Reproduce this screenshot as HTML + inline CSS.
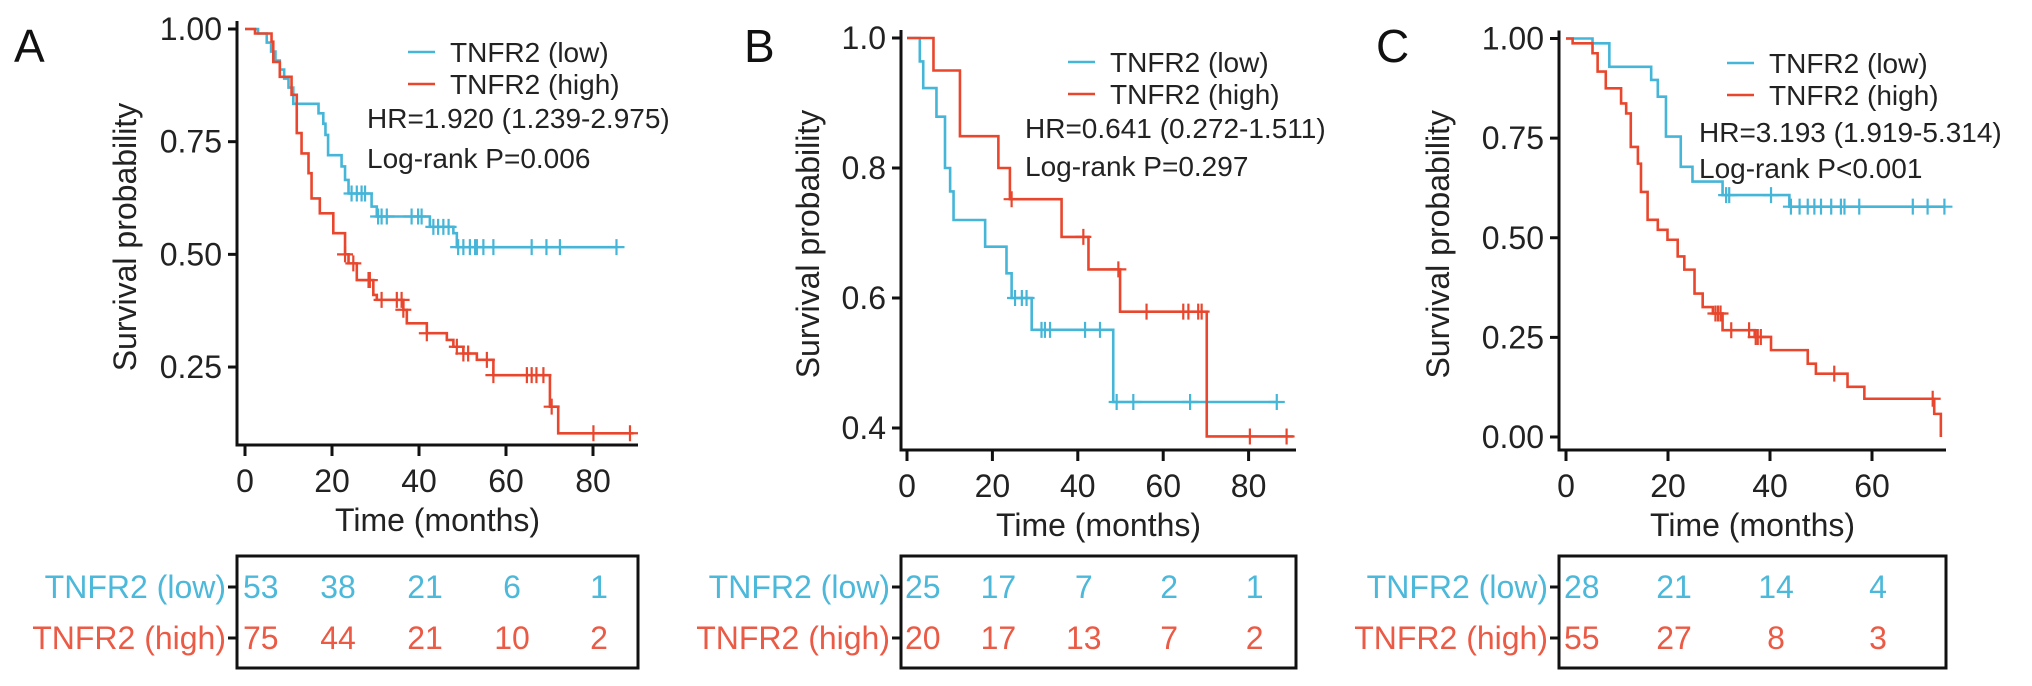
<!DOCTYPE html>
<html><head><meta charset="utf-8"><title>TNFR2 survival curves</title>
<style>
html,body{margin:0;padding:0;background:#fff;}
svg{display:block;font-family:"Liberation Sans",Arial,sans-serif;}
</style></head>
<body>
<svg id="fig" width="2032" height="686" viewBox="0 0 2032 686" xmlns="http://www.w3.org/2000/svg"></svg>
<script>
// ---------- DATA ----------
// Panel A
const aLowTimes  = [3,5,6,7,8,9,10,11.1,16.9,18,18.5,19.1,22.2,23,23.8,29.1,30.3,42.5,47.9,48.7];
const aLowSurv   = [0.99,0.97,0.95,0.93,0.91,0.89,0.87,0.834,0.813,0.79,0.765,0.72,0.695,0.665,0.635,0.606,0.584,0.561,0.547,0.516];
const aLowEnd = 85.4;
const aLowCens = [24.5,25.7,26.8,27.6,30.6,31.4,32.6,38.3,39.8,40.6,43.3,44.4,45.6,46.8,49.0,50.2,51.7,52.9,53.3,54.8,57.1,65.9,69.3,72.4,85.4];
const aHighTimes = [2.3,6.1,6.5,8.0,10.7,11.9,13.0,14.6,15.3,17.2,20.3,23.0,23.8,25.7,29.5,30.3,36.4,37.2,41.8,46.4,47.9,50.2,53.3,57.1,70.1,72];
const aHighSurv  = [0.99,0.972,0.927,0.894,0.854,0.769,0.724,0.68,0.624,0.591,0.547,0.5,0.48,0.443,0.41,0.399,0.377,0.347,0.325,0.31,0.295,0.28,0.266,0.232,0.162,0.103];
const aHighEnd = 89.3;
const aHighCens = [23,24.9,28.4,28.7,31.4,34.9,36,36.4,41.8,48.7,50.2,51.3,55.6,57.1,64.8,65.9,67.0,68.6,70.5,80.1,88.5];
const aRiskTimes = [0,20,40,60,80];
const aRiskLow  = [53,38,21,6,1];
const aRiskHigh = [75,44,21,10,2];
const aYTicks = ["0.25","0.50","0.75","1.00"];
const aXTicks = [0,20,40,60,80];

// Panel B
const bLowTimes = [3.0,3.8,6.9,8.9,10.1,10.9,18.3,23.3,24.5,29.2,48.3];
const bLowSurv  = [0.964,0.923,0.879,0.8,0.764,0.72,0.679,0.638,0.6,0.551,0.44];
const bLowEnd = 86.6;
const bLowCens = [25.3,26.9,28.0,31.5,32.3,33.5,41.7,45.2,49.1,53,66.3,86.6];
const bHighTimes = [6.2,12.4,21.4,24.1,36.2,42.5,49.9,70.2];
const bHighSurv  = [0.95,0.849,0.8,0.752,0.694,0.644,0.579,0.387];
const bHighEnd = 90.5;
const bHighCens = [24.5,41.3,49.5,56.1,64.7,65.9,68.2,69,80.3,88.9];
const bRiskTimes = [0,20,40,60,80];
const bRiskLow  = [25,17,7,2,1];
const bRiskHigh = [20,17,13,7,2];
const bYTicks = ["0.4","0.6","0.8","1.0"];
const bXTicks = [0,20,40,60,80];

// Panel C
const cLowTimes = [5.2,8.5,16.7,18,19.6,22.5,24.8,30.7,43.8];
const cLowSurv  = [0.988,0.929,0.896,0.854,0.754,0.678,0.641,0.607,0.578];
const cLowEnd = 74.2;
const cLowCens = [31.4,32,40.2,44.1,45.8,47.4,48.7,50,52,53.9,54.6,57.5,68,70.9,74.2];
const cHighTimes = [1.3,5.2,6.2,7.8,10.8,11.8,12.7,14.1,14.7,16,18,19.9,21.9,23.2,25.2,26.8,28.8,30.7,37,40.2,47.4,49,55.2,58.5,72.2,73.5];
const cHighSurv  = [0.988,0.963,0.917,0.875,0.837,0.812,0.728,0.686,0.615,0.545,0.52,0.495,0.453,0.42,0.36,0.326,0.31,0.268,0.251,0.218,0.184,0.159,0.126,0.096,0.058,0.0];
const cHighEnd = 73.5;
const cHighCens = [29.3,29.8,30.3,32.4,35.9,37.2,37.6,38.2,52.6,71.9];
const cRiskTimes = [0,20,40,60];
const cRiskLow  = [28,21,14,4];
const cRiskHigh = [55,27,8,3];
const cYTicks = ["0.00","0.25","0.50","0.75","1.00"];
const cXTicks = [0,20,40,60];

// ---------- DRAWING ----------
const NS = "http://www.w3.org/2000/svg";
const svg = document.getElementById('fig');
const BLUE = "#45b5d8", RED = "#e8472e", RBLUE = "#4cb8da", RRED = "#ea5a45";
const TICK_FS = 32, TITLE_FS = 32, LEG_FS = 28, RISK_FS = 32;
function el(tag, attrs, parent){
  const e = document.createElementNS(NS, tag);
  for (const k in attrs) e.setAttribute(k, attrs[k]);
  (parent||svg).appendChild(e);
  return e;
}
function txt(s, attrs, parent){ const e = el('text', attrs, parent); e.textContent = s; return e; }

function panel(cfg){
  const g = el('g', {});
  
  
  const X = t => cfg.x0 + t * cfg.pxPerT;
  const Y = v => cfg.yTop + (cfg.vTop - v) * cfg.pxPerV;

  const lt = txt(cfg.letter, {x: cfg.letterX, y: 62, 'font-size': 46, fill: '#111'}, g);
  
  

  const ya = el('line', {x1: cfg.axisX, y1: cfg.yTop - 8, x2: cfg.axisX, y2: cfg.axisY, stroke: '#111', 'stroke-width': 3}, g);
  
  
  const xa = el('line', {x1: cfg.axisX - 1.5, y1: cfg.axisY, x2: cfg.xEnd, y2: cfg.axisY, stroke: '#111', 'stroke-width': 3}, g);
  
  

  cfg.yTicks.forEach(lbl => {
    const yy = Y(parseFloat(lbl));
    const tk = el('line', {x1: cfg.axisX - 9, y1: yy, x2: cfg.axisX, y2: yy, stroke: '#111', 'stroke-width': 3}, g);
    
    
    const tl = txt(lbl, {x: cfg.axisX - 15, y: yy + 11, 'font-size': TICK_FS, 'text-anchor': 'end', fill: '#222'}, g);
    
    
  });
  cfg.xTicks.forEach(t => {
    const xx = X(t);
    const tk = el('line', {x1: xx, y1: cfg.axisY, x2: xx, y2: cfg.axisY + 11, stroke: '#111', 'stroke-width': 3}, g);
    
    
    const tl = txt(String(t), {x: xx, y: cfg.axisY + 47, 'font-size': TICK_FS, 'text-anchor': 'middle', fill: '#222'}, g);
    
    
  });
  const yt = txt('Survival probability', {x: 0, y: 0, 'font-size': TITLE_FS, 'text-anchor': 'middle', fill: '#222',
    transform: `translate(${cfg.yTitleX + 11},${(cfg.yTop + cfg.axisY) / 2}) rotate(-90)`}, g);
  
  
  const xt = txt('Time (months)', {x: (cfg.axisX + cfg.xEnd) / 2, y: cfg.axisY + 86, 'font-size': TITLE_FS, 'text-anchor': 'middle', fill: '#222'}, g);
  
  

  function survAt(times, surv, t){
    let s = 1;
    for (let i = 0; i < times.length; i++) if (times[i] <= t) s = surv[i];
    return s;
  }
  function curve(times, surv, end, cens, color, name){
    let d = `M${X(0)},${Y(1)}`;
    for (let i = 0; i < times.length; i++) d += ` H${X(times[i])} V${Y(surv[i])}`;
    d += ` H${X(end)}`;
    const p = el('path', {d: d, fill: 'none', stroke: color, 'stroke-width': 2.6}, g);
    
    
    cens.forEach(t => {
      const cx = X(t), cy = Y(survAt(times, surv, t));
      const m = el('path', {d: `M${cx - 8},${cy} H${cx + 8} M${cx},${cy - 8} V${cy + 8}`, stroke: color, 'stroke-width': 2.2, fill: 'none'}, g);
      
      
    });
  }
  curve(cfg.lowT, cfg.lowS, cfg.lowEnd, cfg.lowC, BLUE, 'low');
  curve(cfg.highT, cfg.highS, cfg.highEnd, cfg.highC, RED, 'high');

  const L = cfg.leg;
  const l1 = el('line', {x1: L.lx, y1: L.y1, x2: L.lx + 27, y2: L.y1, stroke: BLUE, 'stroke-width': 2.6}, g);
  
  
  const t1 = txt('TNFR2 (low)', {x: L.lx + 42, y: L.y1 + 10, 'font-size': LEG_FS, fill: '#222'}, g);
  
  
  const l2 = el('line', {x1: L.lx, y1: L.y2, x2: L.lx + 27, y2: L.y2, stroke: RED, 'stroke-width': 2.6}, g);
  
  
  const t2 = txt('TNFR2 (high)', {x: L.lx + 42, y: L.y2 + 10, 'font-size': LEG_FS, fill: '#222'}, g);
  
  
  const hr = txt(cfg.hr, {x: L.hx, y: L.y3 + 10, 'font-size': LEG_FS, fill: '#222'}, g);
  
  
  const pv = txt(cfg.p, {x: L.hx, y: L.y4 + 10, 'font-size': LEG_FS, fill: '#222'}, g);
  
  

  const box = el('rect', {x: cfg.axisX, y: 556, width: cfg.xEnd - cfg.axisX, height: 112, fill: 'none', stroke: '#111', 'stroke-width': 3}, g);
  
  
  const rows = [{y: 587, label: 'TNFR2 (low)', vals: cfg.riskLow, col: RBLUE, n: 'low'},
                {y: 638, label: 'TNFR2 (high)', vals: cfg.riskHigh, col: RRED, n: 'high'}];
  rows.forEach(r => {
    const tk = el('line', {x1: cfg.axisX - 9, y1: r.y, x2: cfg.axisX, y2: r.y, stroke: '#111', 'stroke-width': 3}, g);
    
    
    const lb = txt(r.label, {x: cfg.axisX - 11, y: r.y + 11, 'font-size': RISK_FS, 'text-anchor': 'end', fill: r.col}, g);
    
    
    r.vals.forEach((v, i) => {
      const t = cfg.riskT[i];
      const attrs = i === 0 ? {x: X(t) - 2, 'text-anchor': 'start'} : {x: X(t) + 6, 'text-anchor': 'middle'};
      attrs.y = r.y + 11; attrs['font-size'] = RISK_FS; attrs.fill = r.col;
      const nt = txt(String(v), attrs, g);
      
      
    });
  });
}

panel({id: 'a', letter: 'A', letterX: 14, x0: 245, pxPerT: 4.35, yTop: 29, vTop: 1.0, pxPerV: 450.7,
  axisX: 237, axisY: 445, xEnd: 638, yTitleX: 125,
  yTicks: aYTicks, xTicks: aXTicks,
  lowT: aLowTimes, lowS: aLowSurv, lowEnd: aLowEnd, lowC: aLowCens,
  highT: aHighTimes, highS: aHighSurv, highEnd: aHighEnd, highC: aHighCens,
  riskT: aRiskTimes, riskLow: aRiskLow, riskHigh: aRiskHigh,
  hr: 'HR=1.920 (1.239-2.975)', p: 'Log-rank P=0.006',
  leg: {lx: 408, y1: 52, y2: 84, hx: 367, y3: 118, y4: 158}});

panel({id: 'b', letter: 'B', letterX: 744, x0: 907, pxPerT: 4.27, yTop: 38, vTop: 1.0, pxPerV: 650,
  axisX: 901, axisY: 450, xEnd: 1296, yTitleX: 808,
  yTicks: bYTicks, xTicks: bXTicks,
  lowT: bLowTimes, lowS: bLowSurv, lowEnd: bLowEnd, lowC: bLowCens,
  highT: bHighTimes, highS: bHighSurv, highEnd: bHighEnd, highC: bHighCens,
  riskT: bRiskTimes, riskLow: bRiskLow, riskHigh: bRiskHigh,
  hr: 'HR=0.641 (0.272-1.511)', p: 'Log-rank P=0.297',
  leg: {lx: 1068, y1: 62, y2: 94, hx: 1025, y3: 128, y4: 166}});

panel({id: 'c', letter: 'C', letterX: 1376, x0: 1566, pxPerT: 5.1, yTop: 38.5, vTop: 1.0, pxPerV: 398.5,
  axisX: 1559, axisY: 450, xEnd: 1946, yTitleX: 1438,
  yTicks: cYTicks, xTicks: cXTicks,
  lowT: cLowTimes, lowS: cLowSurv, lowEnd: cLowEnd, lowC: cLowCens,
  highT: cHighTimes, highS: cHighSurv, highEnd: cHighEnd, highC: cHighCens,
  riskT: cRiskTimes, riskLow: cRiskLow, riskHigh: cRiskHigh,
  hr: 'HR=3.193 (1.919-5.314)', p: 'Log-rank P<0.001',
  leg: {lx: 1727, y1: 63, y2: 95, hx: 1699, y3: 132, y4: 168}});
</script>
</body></html>
